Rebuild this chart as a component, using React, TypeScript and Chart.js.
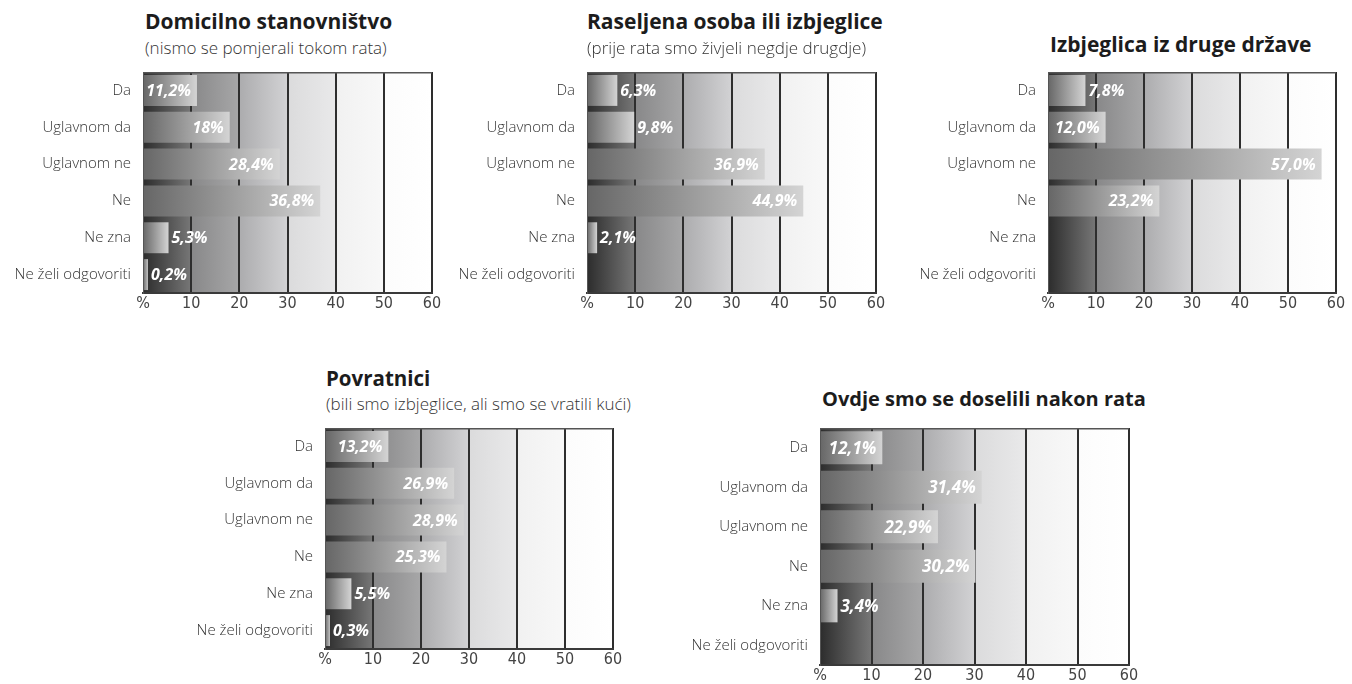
import React, { useEffect, useRef } from "react";
import { Chart, registerables } from "chart.js";

Chart.register(...registerables);

// ---------- DATA ----------
const categories = ["Da", "Uglavnom da", "Uglavnom ne", "Ne", "Ne zna", "Ne želi odgovoriti"];
const xTickValues = [0, 10, 20, 30, 40, 50, 60];
const xTickLabels = ["%", "10", "20", "30", "40", "50", "60"];

const domicilnoValues = [11.2, 18, 28.4, 36.8, 5.3, 0.2];
const domicilnoLabels = ["11,2%", "18%", "28,4%", "36,8%", "5,3%", "0,2%"];

const raseljeniValues = [6.3, 9.8, 36.9, 44.9, 2.1, null];
const raseljeniLabels = ["6,3%", "9,8%", "36,9%", "44,9%", "2,1%", ""];

const izbjeglicaValues = [7.8, 12.0, 57.0, 23.2, null, null];
const izbjeglicaLabels = ["7,8%", "12,0%", "57,0%", "23,2%", "", ""];

const povratniciValues = [13.2, 26.9, 28.9, 25.3, 5.5, 0.3];
const povratniciLabels = ["13,2%", "26,9%", "28,9%", "25,3%", "5,5%", "0,3%"];

const doseljeniValues = [12.1, 31.4, 22.9, 30.2, 3.4, null];
const doseljeniLabels = ["12,1%", "31,4%", "22,9%", "30,2%", "3,4%", ""];

// ---------- STYLE ----------
const SANS = "'Open Sans', 'Noto Sans', sans-serif";
const NARROW = "'Liberation Sans Narrow', 'DejaVu Sans Condensed', sans-serif";
const AXIS_W = 140;
const PAD_TOP = 6;
const PAD_RIGHT = 16;
const XAXIS_H = 28;

type Panel = {
  title: string;
  subtitle?: string;
  values: (number | null)[];
  labels: string[];
  plot: { left: number; top: number; right: number; bottom: number };
  titleX: number;
  titleBase: number;
  titleSize: number;
  subBase?: number;
  valueSize: number;
};

const panels: Panel[] = [
  {
    title: "Domicilno stanovništvo",
    subtitle: "(nismo se pomjerali tokom rata)",
    values: domicilnoValues,
    labels: domicilnoLabels,
    plot: { left: 143, top: 72, right: 432, bottom: 293 },
    titleX: 145,
    titleBase: 29.5,
    titleSize: 21,
    subBase: 54.5,
    valueSize: 16,
  },
  {
    title: "Raseljena osoba ili izbjeglice",
    subtitle: "(prije rata smo živjeli negdje drugdje)",
    values: raseljeniValues,
    labels: raseljeniLabels,
    plot: { left: 587, top: 72, right: 876, bottom: 293 },
    titleX: 587,
    titleBase: 29.5,
    titleSize: 21,
    subBase: 54,
    valueSize: 16,
  },
  {
    title: "Izbjeglica iz druge države",
    values: izbjeglicaValues,
    labels: izbjeglicaLabels,
    plot: { left: 1048, top: 72, right: 1336, bottom: 293 },
    titleX: 1050,
    titleBase: 53,
    titleSize: 21,
    valueSize: 16,
  },
  {
    title: "Povratnici",
    subtitle: "(bili smo izbjeglice, ali smo se vratili kući)",
    values: povratniciValues,
    labels: povratniciLabels,
    plot: { left: 325, top: 428, right: 613, bottom: 649 },
    titleX: 326,
    titleBase: 386.5,
    titleSize: 20.5,
    subBase: 410,
    valueSize: 16,
  },
  {
    title: "Ovdje smo se doselili nakon rata",
    values: doseljeniValues,
    labels: doseljeniLabels,
    plot: { left: 820, top: 428, right: 1129, bottom: 665 },
    titleX: 822,
    titleBase: 406.5,
    titleSize: 20,
    valueSize: 17,
  },
];

function BarPanel({ p }: { p: Panel }) {
  const ref = useRef<HTMLCanvasElement | null>(null);
  const left = p.plot.left - AXIS_W;
  const top = p.plot.top - PAD_TOP;
  const width = p.plot.right + PAD_RIGHT - left;
  const height = p.plot.bottom + XAXIS_H - top;

  useEffect(() => {
    if (!ref.current) return;

    const backgroundPlugin = {
      id: "bandBackground",
      beforeDraw(chart: any) {
        const { ctx, chartArea } = chart;
        if (!chartArea) return;
        const xs = chart.scales.x;
        const x0 = xs.getPixelForValue(0);
        const x1 = xs.getPixelForValue(60);
        const g = ctx.createLinearGradient(x0, 0, x1, 0);
        const e = 0.0001;
        const k = 1 / 6;
        g.addColorStop(0, "#2c2c2c");
        g.addColorStop(k - e, "#777777");
        g.addColorStop(k, "#888889");
        g.addColorStop(2 * k - e, "#a7a7a8");
        g.addColorStop(2 * k, "#acacae");
        g.addColorStop(3 * k - e, "#d2d2d4");
        g.addColorStop(3 * k, "#dbdbdc");
        g.addColorStop(4 * k - e, "#e9e9ea");
        g.addColorStop(4 * k, "#f1f1f1");
        g.addColorStop(5 * k - e, "#f8f8f8");
        g.addColorStop(5 * k, "#fcfcfc");
        g.addColorStop(1, "#ffffff");
        ctx.save();
        ctx.fillStyle = g;
        ctx.fillRect(chartArea.left, chartArea.top, chartArea.right - chartArea.left, chartArea.bottom - chartArea.top);
        ctx.restore();
      },
      afterDraw(chart: any) {
        const { ctx, chartArea } = chart;
        ctx.save();
        ctx.strokeStyle = "#555555";
        ctx.lineWidth = 1.5;
        ctx.beginPath();
        ctx.moveTo(chartArea.left, chartArea.top + 0.75);
        ctx.lineTo(chartArea.right, chartArea.top + 0.75);
        ctx.stroke();
        ctx.restore();
      },
    };

    const valueLabelPlugin = {
      id: "valueLabels",
      afterDatasetsDraw(chart: any) {
        const { ctx } = chart;
        const meta = chart.getDatasetMeta(0);
        ctx.save();
        ctx.font = `italic bold ${p.valueSize}px ${SANS}`;
        ctx.fillStyle = "#ffffff";
        ctx.textBaseline = "middle";
        meta.data.forEach((el: any, i: number) => {
          const v = p.values[i];
          if (v == null) return;
          const text = p.labels[i];
          if (v >= 10) {
            ctx.textAlign = "right";
            ctx.fillText(text, el.x - 6, el.y + 1);
          } else {
            ctx.textAlign = "left";
            ctx.fillText(text, el.x + 3, el.y + 1);
          }
        });
        ctx.restore();
      },
    };

    const chart = new Chart(ref.current, {
      type: "bar",
      data: {
        labels: categories,
        datasets: [
          {
            data: p.values as any,
            backgroundColor: (c: any) => {
              const ch = c.chart;
              const xs = ch.scales && ch.scales.x;
              if (!xs || !ch.chartArea || c.raw == null) return "#888888";
              const x0 = xs.getPixelForValue(0);
              const x1 = Math.max(xs.getPixelForValue(c.raw), x0 + 6);
              const g = ch.ctx.createLinearGradient(x0, 0, x1, 0);
              g.addColorStop(0, "#666666");
              g.addColorStop(1, "#d4d4d4");
              return g;
            },
            borderWidth: 0,
            barPercentage: 0.84,
            categoryPercentage: 1,
            minBarLength: 5,
          },
        ],
      },
      options: {
        responsive: false,
        animation: false,
        indexAxis: "y",
        layout: { padding: { top: PAD_TOP, right: PAD_RIGHT, left: 0, bottom: 0 } },
        plugins: {
          legend: { display: false },
          tooltip: { enabled: false },
          title: { display: false },
        },
        scales: {
          x: {
            type: "linear",
            min: 0,
            max: 60,
            afterBuildTicks: (scale: any) => {
              scale.ticks = xTickValues.map((v) => ({ value: v }));
            },
            afterFit: (scale: any) => {
              scale.height = XAXIS_H;
              scale.paddingLeft = 0;
              scale.paddingRight = 0;
            },
            ticks: {
              autoSkip: false,
              maxRotation: 0,
              padding: 1,
              color: "#444444",
              font: { family: NARROW, size: 16 },
              callback: (_v: any, i: number) => xTickLabels[i],
            },
            grid: {
              drawTicks: false,
              lineWidth: 2,
              color: (c: any) => (c.tick && c.tick.value === 0 ? "rgba(0,0,0,0)" : "#2e2e2e"),
            },
            border: { display: true, color: "#3a3a3a", width: 2 },
          },
          y: {
            type: "category",
            afterFit: (scale: any) => {
              scale.width = AXIS_W;
              scale.paddingTop = 0;
              scale.paddingBottom = 0;
            },
            ticks: {
              padding: 12,
              color: "#333333",
              font: { family: SANS, size: 15, weight: "300" as any },
            },
            grid: { display: false, drawTicks: false },
            border: { display: true, color: "#555555", width: 1 },
          },
        },
      },
      plugins: [backgroundPlugin, valueLabelPlugin],
    });
    return () => chart.destroy();
  }, [p]);

  const tfs = p.titleSize;
  const sfs = 17;
  return (
    <>
      <div
        style={{
          position: "absolute",
          left: p.titleX,
          top: p.titleBase - 0.888 * tfs,
          fontFamily: SANS,
          fontWeight: 700,
          fontSize: tfs,
          lineHeight: `${tfs}px`,
          color: "#1c1c1c",
          whiteSpace: "nowrap",
        }}
      >
        {p.title}
      </div>
      {p.subtitle && p.subBase !== undefined && (
        <div
          style={{
            position: "absolute",
            left: p.titleX,
            top: p.subBase - 0.888 * sfs,
            fontFamily: SANS,
            fontWeight: 300,
            fontSize: sfs,
            lineHeight: `${sfs}px`,
            color: "#333333",
            whiteSpace: "nowrap",
          }}
        >
          {p.subtitle}
        </div>
      )}
      <canvas
        ref={ref}
        width={width}
        height={height}
        style={{ position: "absolute", left, top, width, height }}
      />
    </>
  );
}

export default function App() {
  return (
    <div
      style={{
        position: "absolute",
        left: 0,
        top: 0,
        width: 1352,
        height: 684,
        background: "#ffffff",
        overflow: "hidden",
      }}
    >
      {panels.map((p, i) => (
        <BarPanel key={i} p={p} />
      ))}
    </div>
  );
}
